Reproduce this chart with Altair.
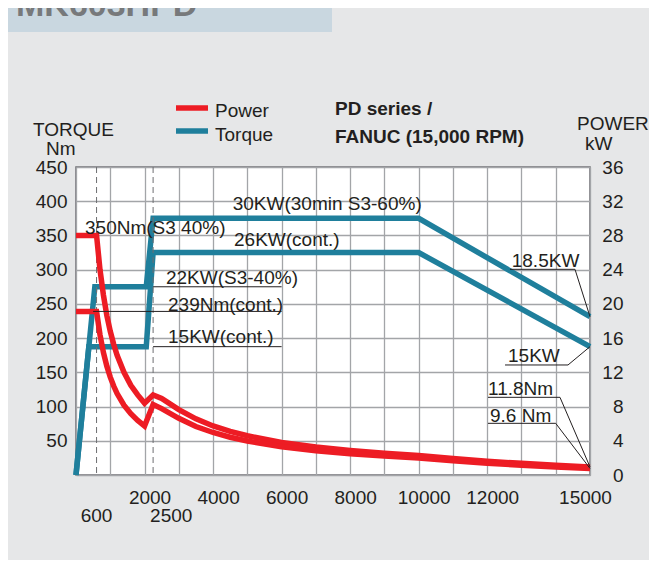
import altair as alt
import pandas as pd

RED = "#ed1c24"
BLUE = "#1f7f9c"
INK = "#231f20"
FONT = "Liberation Sans"

# ---------------- data ----------------
# red curves (left axis, Nm)
red_rpm = [0, 600, 700, 800, 900, 1000, 1100, 1200, 1400, 1600, 1800, 2000, 2250, 2500,
           3000, 3500, 4000, 4500, 5000, 6000, 7000, 8000, 9000, 10000, 11000, 12000,
           13000, 14000, 15000]
red_s3_nm = [350, 350, 300, 263, 233, 210, 191, 175, 150, 131, 117, 105, 117, 112,
             95.5, 82, 71.6, 63.7, 57.3, 47.7, 40.9, 35.8, 31.8, 28.6, 24.0, 20.2,
             17.0, 14.2, 11.8]
red_cont_nm = [239, 239, 205, 179, 159, 143, 130, 119, 102, 89.5, 79.6, 71.6, 103, 97,
               82.8, 70.9, 62.1, 55.2, 49.7, 41.4, 35.5, 31.0, 27.6, 24.8, 20.7, 17.2,
               14.3, 11.7, 9.6]

# blue curves (right axis, kW)
blue_s3_rpm = [0, 550, 2050, 2250, 10000, 15000]
blue_s3_kw = [0, 22, 22, 30, 30, 18.5]
blue_cont_rpm = [0, 375, 2050, 2250, 10000, 15000]
blue_cont_kw = [0, 15, 15, 26, 26, 15]

series_names = ["Power", "Torque"]
series_colors = [RED, BLUE]

# axes
x_grid = list(range(0, 15001, 1000))
x_tick_labels = [2000, 4000, 6000, 8000, 10000, 12000, 15000]
y_left_ticks = [0, 50, 100, 150, 200, 250, 300, 350, 400, 450]
y_right_ticks = [0, 4, 8, 12, 16, 20, 24, 28, 32, 36]
marker_rpm = [600, 2250]
marker_labels = ["600", "2500"]

# annotations
ann_nm_text = ["350Nm(S3 40%)", "239Nm(cont.)", "11.8Nm", "9.6 Nm"]
ann_nm_rpm = [263, 2685, 12023, 12082]
ann_nm_val = [352, 240, 117, 78]

ann_kw_text = ["30KW(30min S3-60%)", "26KW(cont.)", "22KW(S3-40%)", "15KW(cont.)", "18.5KW", "15KW"]
ann_kw_rpm = [4573, 4611, 2626, 2685, 12716, 12607]
ann_kw_val = [31.0, 26.8, 22.3, 15.4, 24.3, 13.2]

lead_nm = [("a", [500, 6000], [239, 239]),
           ("b", [12023, 14124, 15000], [113.5, 113.5, 11.8]),
           ("c", [12023, 13999, 15000], [75.5, 75.5, 9.6])]
lead_kw = [("d", [2250, 6000], [22, 22]),
           ("e", [2250, 6000], [15, 15]),
           ("f", [12665, 14562, 15000], [24.04, 24.04, 18.5]),
           ("g", [12520, 14358, 15000], [12.86, 12.86, 15])]

# ---------------- tables ----------------
red_df = pd.concat([
    pd.DataFrame({"rpm": red_rpm, "nm": red_s3_nm, "curve": "s3", "series": "Power"}),
    pd.DataFrame({"rpm": red_rpm, "nm": red_cont_nm, "curve": "cont", "series": "Power"}),
])
blue_df = pd.concat([
    pd.DataFrame({"rpm": blue_s3_rpm, "kw": blue_s3_kw, "curve": "s3", "series": "Torque"}),
    pd.DataFrame({"rpm": blue_cont_rpm, "kw": blue_cont_kw, "curve": "cont", "series": "Torque"}),
])
ann_nm = pd.DataFrame({"label": ann_nm_text, "rpm": ann_nm_rpm, "nm": ann_nm_val})
ann_kw = pd.DataFrame({"label": ann_kw_text, "rpm": ann_kw_rpm, "kw": ann_kw_val})
lead_nm_df = pd.concat([pd.DataFrame({"id": k, "rpm": xs, "nm": ys, "i": range(len(xs))}) for k, xs, ys in lead_nm])
lead_kw_df = pd.concat([pd.DataFrame({"id": k, "rpm": xs, "kw": ys, "i": range(len(xs))}) for k, xs, ys in lead_kw])
marker_df = pd.DataFrame({"rpm": marker_rpm, "label": marker_labels})
dummy = pd.DataFrame({"d": [0]})

# ---------------- scales / axes ----------------
x_expr = "indexof([%s], datum.value) >= 0 ? format(datum.value, 'd') : ''" % ",".join(str(v) for v in x_tick_labels)
x_axis = alt.Axis(values=x_grid, labelExpr=x_expr, grid=True, ticks=False, tickSize=0, domain=False,
                  labelPadding=13, labelFontSize=19, labelFont=FONT, labelColor=INK,
                  labelFlush=False, labelOverlap=False, gridColor="#a3a5a8", gridWidth=1.3,
                  labelOffset={"condition": {"test": "datum.value == 15000", "value": -5}, "value": 5},
                  title=None)
yl_axis = alt.Axis(values=y_left_ticks, labelExpr="datum.value == 0 ? '' : format(datum.value, 'd')",
                   orient="left", grid=True, ticks=False, tickSize=0, domain=False, labelPadding=9,
                   labelFontSize=19, labelFont=FONT, labelColor=INK, gridColor="#a3a5a8", gridWidth=1.3,
                   labelOverlap=False, labelFlush=False, title=None)
yr_axis = alt.Axis(values=y_right_ticks, orient="right", grid=False, ticks=False, tickSize=0, domain=False,
                   labelAlign="right", labelPadding=33, labelFontSize=19, labelFont=FONT, labelColor=INK,
                   labelOverlap=False, labelFlush=False, title=None)

xs = alt.Scale(domain=[0, 15000], nice=False, zero=False)


def X():
    return alt.X("rpm:Q", scale=xs, axis=x_axis)


def YL():
    return alt.Y("nm:Q", scale=alt.Scale(domain=[0, 450], nice=False), axis=yl_axis)


def YR():
    return alt.Y("kw:Q", scale=alt.Scale(domain=[0, 36], nice=False), axis=yr_axis)


color = alt.Color("series:N", scale=alt.Scale(domain=series_names, range=series_colors), legend=None)


def ptext(text, x, y, size=19, bold=False, col=INK, align="left"):
    return alt.Chart(dummy).mark_text(text=text, align=align, baseline="alphabetic", fontSize=size,
                                      font=FONT, fontWeight="bold" if bold else "normal",
                                      color=col).encode(x=alt.value(x), y=alt.value(y))


def legend_row(i, y_sym, y_txt):
    sym = alt.Chart(dummy).mark_rule(strokeWidth=5.5, color=series_colors[i]).encode(
        x=alt.value(100), x2=alt.value(132), y=alt.value(y_sym))
    return [sym, ptext(series_names[i], 139, y_txt)]


# ---------------- blue group (kW) ----------------
blue_lines = alt.Chart(blue_df).mark_line(strokeWidth=5.5, strokeJoin="miter").encode(
    x=X(), y=YR(), color=color, detail="curve:N")
blue_lead = alt.Chart(lead_kw_df).mark_line(strokeWidth=1, color=INK).encode(
    x=X(), y=YR(), detail="id:N", order="i:Q")
blue_text = alt.Chart(ann_kw).mark_text(align="left", baseline="alphabetic", fontSize=19,
                                         font=FONT, color=INK).encode(x=X(), y=YR(), text="label:N")
blue_group = alt.layer(blue_lines, blue_lead, blue_text)

# ---------------- red group (Nm) ----------------
box = alt.Chart(dummy).mark_rect(color="#c9d7e0").encode(
    x=alt.value(-70), x2=alt.value(256), y=alt.value(-170), y2=alt.value(-135))
dashes = alt.Chart(marker_df).mark_rule(strokeDash=[6, 4], strokeWidth=1, color="#6d6e71").encode(x=X())
m600 = alt.Chart(marker_df).transform_filter("datum.label == '600'").mark_text(
    align="center", baseline="alphabetic", fontSize=19, font=FONT, color=INK).encode(
    x=X(), y=alt.value(354.7), text="label:N")
m2500 = alt.Chart(marker_df).transform_filter("datum.label == '2500'").mark_text(
    align="left", baseline="alphabetic", fontSize=19, font=FONT, color=INK, dx=-3).encode(
    x=X(), y=alt.value(354.7), text="label:N")
red_lines = alt.Chart(red_df).mark_line(strokeWidth=5.5, strokeJoin="miter").encode(
    x=X(), y=YL(), color=color, detail="curve:N")
red_lead = alt.Chart(lead_nm_df).mark_line(strokeWidth=1, color=INK).encode(
    x=X(), y=YL(), detail="id:N", order="i:Q")
red_text = alt.Chart(ann_nm).mark_text(align="left", baseline="alphabetic", fontSize=19,
                                        font=FONT, color=INK).encode(x=X(), y=YL(), text="label:N")

titles = [
    ptext("MK603HPD", -60, -151, size=34, bold=True, col="#77797b"),
    ptext("TORQUE", -43, -31),
    ptext("Nm", -30, -12),
    ptext("POWER", 501, -37),
    ptext("kW", 509, -17),
    ptext("PD series /", 259, -52, bold=True),
    ptext("FANUC (15,000 RPM)", 259, -24, bold=True),
]
legend_marks = legend_row(0, -59, -50) + legend_row(1, -36, -26)

red_group = alt.layer(box, *titles, *legend_marks, dashes, m600, m2500, red_lines, red_lead, red_text)

chart = alt.layer(blue_group, red_group).resolve_scale(y="independent").properties(
    width=514, height=308,
    autosize=alt.AutoSizeParams(type="none"),
    padding={"left": 68, "top": 159, "right": 59, "bottom": 85},
    background="#e6e7e8",
).configure_view(fill="white", stroke="#6d6e71", strokeWidth=1.5)

chart.save("out.html", embed_options={"renderer": "svg", "actions": False})
